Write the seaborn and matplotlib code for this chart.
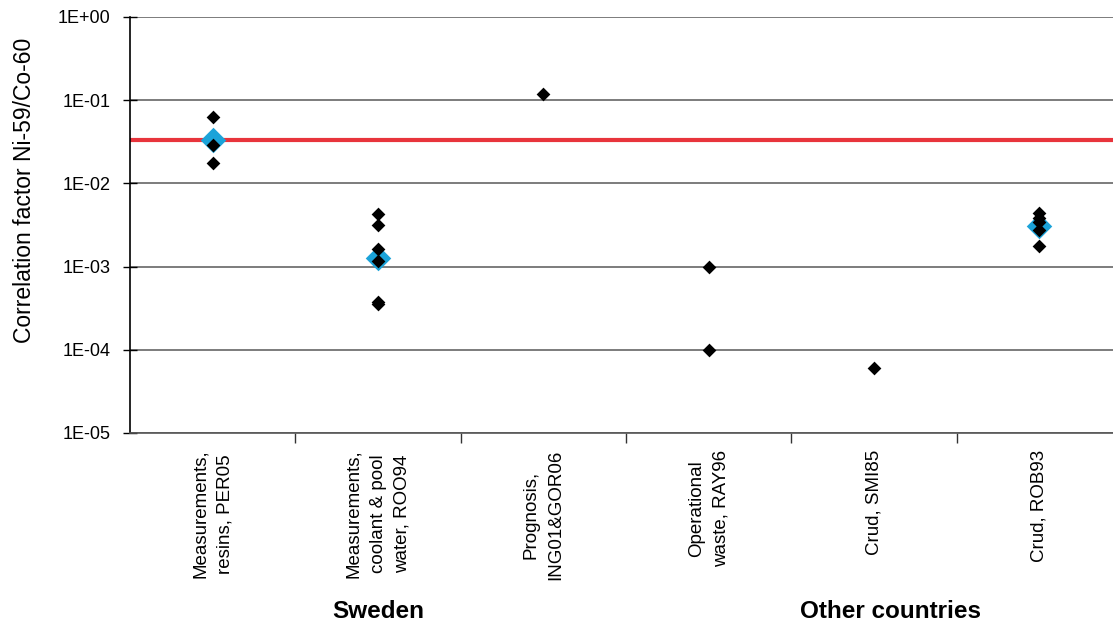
import numpy as np
import pandas as pd
import matplotlib
matplotlib.use("Agg")
import matplotlib.pyplot as plt
import matplotlib.transforms as mtransforms
from matplotlib.ticker import FixedLocator
import seaborn as sns

# DATA

categories = [
    "Measurements,\nresins, PER05",
    "Measurements,\ncoolant & pool\nwater, ROO94",
    "Prognosis,\nING01&GOR06",
    "Operational\nwaste, RAY96",
    "Crud, SMI85",
    "Crud, ROB93",
]

per05 = [0.0625, 0.029, 0.0178]
roo94 = [0.00428, 0.0032, 0.00161, 0.00117, 0.00038, 0.00036]
ing01 = [0.118]
ray96 = [0.001, 0.0001]
smi85 = [6.0e-5]
rob93 = [0.00444, 0.00386, 0.00346, 0.00277, 0.00175]

mean_cats = [categories[0], categories[1], categories[5]]
mean_vals = [0.0334, 0.00126, 0.0031]

ref_value = 0.033

group_names = ["Sweden", "Other countries"]
y_ticks = [1e-5, 1e-4, 1e-3, 1e-2, 1e-1, 1e0]
y_labels = ["1E-05", "1E-04", "1E-03", "1E-02", "1E-01", "1E+00"]

# BUILD TABLES

series = [per05, roo94, ing01, ray96, smi85, rob93]
points = pd.DataFrame({
    "category": [c for c, vals in zip(categories, series) for _ in vals],
    "value": [v for vals in series for v in vals],
})
means = pd.DataFrame({"category": mean_cats, "value": mean_vals})

# PLOT

sns.set_style("white")
plt.rcParams["font.family"] = ["Liberation Sans", "DejaVu Sans"]
plt.rcParams["text.color"] = "black"
plt.rcParams["axes.labelcolor"] = "black"
plt.rcParams["xtick.color"] = "black"
plt.rcParams["ytick.color"] = "black"

fig = plt.figure(figsize=(11.13, 6.24), dpi=100)
ax = fig.add_axes([0.1168, 0.3061, 0.8913, 0.6667])

ax.set_yscale("log")

sns.stripplot(data=means, x="category", y="value", order=categories,
              jitter=False, marker="D", s=13, color="#1ba3d9",
              linewidth=0, ax=ax, zorder=3)
sns.stripplot(data=points, x="category", y="value", order=categories,
              jitter=False, marker="D", s=7, color="black",
              linewidth=0, ax=ax, zorder=4)

ax.axhline(ref_value, color="#e8343c", lw=3, zorder=2)

ax.set_ylim(1e-5, 1e0)
ax.set_xlim(-0.5, len(categories) - 0.5)

ax.set_yticks(y_ticks)
ax.set_yticklabels(y_labels, fontsize=13)
ax.yaxis.set_minor_locator(FixedLocator([]))
ax.tick_params(axis="y", which="major", direction="inout", length=10,
               width=1, color="black", labelcolor="black", pad=9, left=True)

ax.grid(axis="y", color="#666666", lw=1.2)
ax.set_axisbelow(True)

ax.set_xticks(range(len(categories)))
ax.set_xticklabels(categories, rotation=90, fontsize=13.5,
                   ha="center", va="top", multialignment="center")
for lab in ax.get_xticklabels():
    lab.set_linespacing(1.55)
ax.tick_params(axis="x", which="major", length=0, pad=12, labelcolor="black")
ax.xaxis.set_minor_locator(FixedLocator(np.arange(0.5, len(categories), 1)))
ax.tick_params(axis="x", which="minor", length=7, width=1,
               color="#333333", bottom=True, direction="out")

ax.set_xlabel("")
ax.set_ylabel("Correlation factor Ni-59/Co-60", fontsize=16.5)
ax.yaxis.set_label_coords(-0.095, 0.582)

for side in ["top", "right"]:
    ax.spines[side].set_visible(False)
ax.spines["left"].set_color("black")
ax.spines["left"].set_linewidth(1.2)
ax.spines["bottom"].set_color("#555555")
ax.spines["bottom"].set_linewidth(1.2)

# group labels under the categories
trans = mtransforms.blended_transform_factory(ax.transData, fig.transFigure)
ax.text(1.0, 0.0096, group_names[0], transform=trans, ha="center",
        va="baseline", fontsize=17.5, fontweight="bold")
ax.text(4.1, 0.0096, group_names[1], transform=trans, ha="center",
        va="baseline", fontsize=17.5, fontweight="bold")

fig.savefig("out.png", dpi=100)
